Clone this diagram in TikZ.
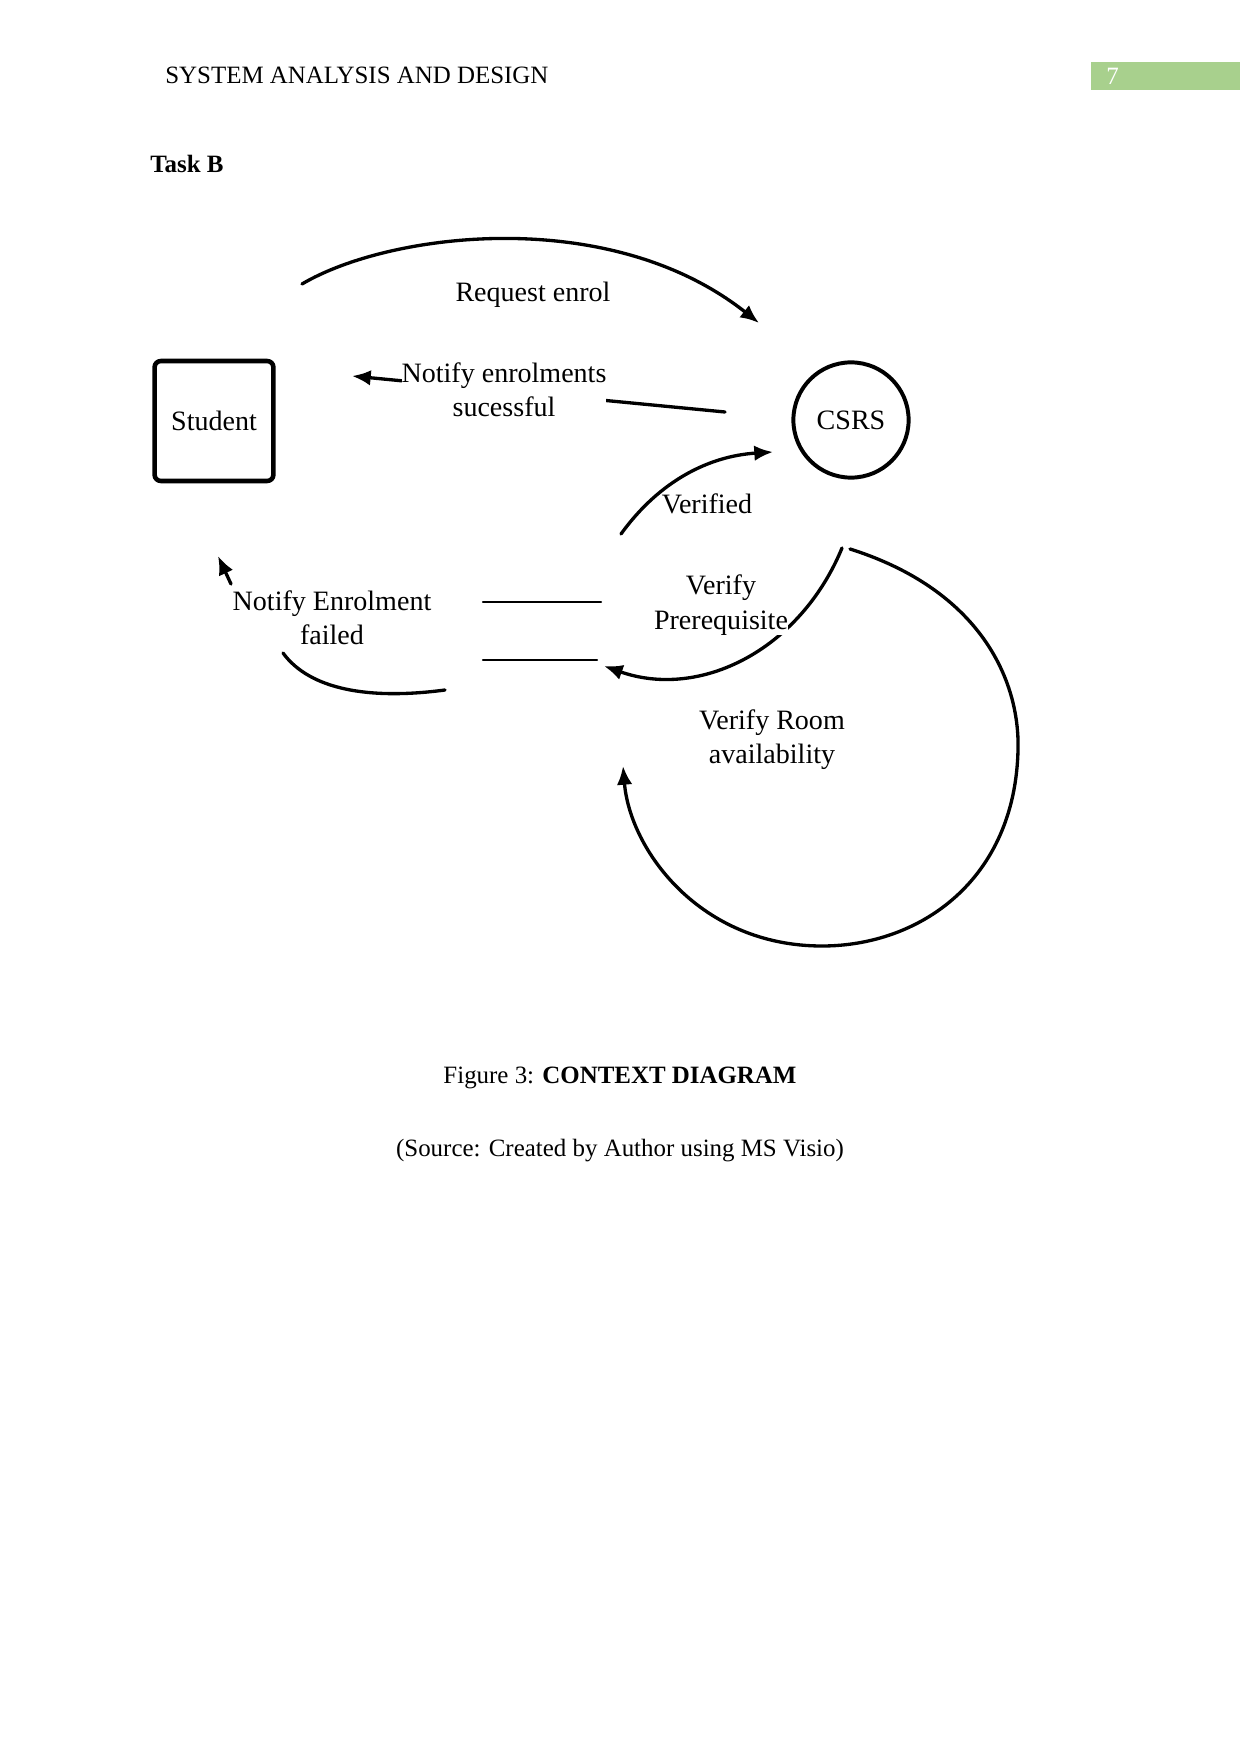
\documentclass[tikz,border=0pt]{standalone}
\usepackage{fontspec}
\setmainfont{Liberation Serif}
\usetikzlibrary{arrows.meta}
\definecolor{pagegreen}{HTML}{A8D08D}
\begin{document}
\begin{tikzpicture}[x=0.016922cm, y=-0.016922cm, >={Latex[length=9pt,width=7.5pt]}, line join=round, line cap=round,
	flow/.style={line width=1.6pt},
	lbl/.style={align=center, font=\fontsize{13.5}{16.5}\selectfont},
	page/.style={font=\fontsize{12}{14}\selectfont}]
	\useasboundingbox (0,0) rectangle (1241,1754);
	% header
	\node[page, anchor=west] (head) at (158,75) {SYSTEM ANALYSIS AND DESIGN};
	\fill[pagegreen] (1091,62) rectangle (1240,90);
	\node[page, white, anchor=west] (pgno) at (1099,76) {7};
	\node[anchor=west, font=\fontsize{12}{14}\selectfont\bfseries] (task) at (143,164) {Task B};
	% entities
	\node[draw, line width=2.2pt, rounded corners=3pt, minimum width=2.01cm, minimum height=2.03cm, lbl] (student) at (214,421) {Student};
	\node[draw, circle, line width=1.9pt, minimum size=1.95cm, lbl] (csrs) at (851,420) {CSRS};
	% end points of the flows
	\coordinate (reqA) at (302,284);
	\coordinate (reqB) at (759,323);
	\coordinate (okA) at (725,412);
	\coordinate (okB) at (352,376);
	\coordinate (vdA) at (621,534);
	\coordinate (vdB) at (773,452);
	\coordinate (prA) at (842,548);
	\coordinate (prB) at (604,666);
	\coordinate (rmA) at (850,549);
	\coordinate (rmB) at (623,766);
	\coordinate (fl1A) at (601,602);
	\coordinate (fl1B) at (483,602);
	\coordinate (fl2A) at (597,660);
	\coordinate (fl2B) at (483,660);
	\coordinate (faA) at (445,690);
	\coordinate (faB) at (283,653);
	\coordinate (fuA) at (231,584);
	\coordinate (fuB) at (218,556);
	% flows
	\draw[flow, ->] (reqA) .. controls (390,232) and (610,205) .. (reqB);
	\node[lbl] (lreq) at (533,295) {Request enrol};
	\draw[flow, ->] (okA) -- (okB);
	\node[lbl, fill=white, inner sep=0pt] (lok) at (504,390) {Notify enrolments\\sucessful};
	\draw[flow, ->] (vdA) .. controls (660,480) and (710,456) .. (vdB);
	\node[lbl] (lvd) at (707,504) {Verified};
	\draw[flow, ->] (prA) .. controls (800,650) and (700,700) .. (prB);
	\node[lbl, fill=white, inner sep=0pt] (lpr) at (721,605) {Verify\\Prerequisite};
	\draw[flow, line width=1.1pt] (fl1A) -- (fl1B);
	\draw[flow, line width=1.1pt] (fl2A) -- (fl2B);
	\draw[flow] (faA) .. controls (370,700) and (310,690) .. (faB);
	\draw[flow, ->] (fuA) -- (fuB);
	\node[lbl] (lfa) at (332,618) {Notify Enrolment\\failed};
	\draw[flow, ->] (rmA) .. controls (980,590) and (1020,680) .. (1018,750)
		.. controls (1015,880) and (920,946) .. (822,946)
		.. controls (700,946) and (630,850) .. (rmB);
	\node[lbl] (lrm) at (772,740) {Verify Room\\availability};
	% caption
	\node[page] (cap) at (620,1078) {Figure 3: \textbf{CONTEXT DIAGRAM}};
	\node[page] (src) at (620,1151) {(Source: Created by Author using MS Visio)};
\end{tikzpicture}
\end{document}
